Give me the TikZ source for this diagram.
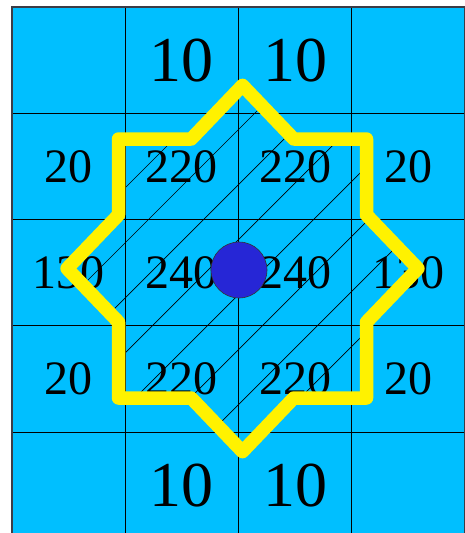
\documentclass[tikz,border=0pt]{standalone}
\usepackage{fontspec}
\setmainfont{Liberation Serif}
\usepackage{tikz}
\usetikzlibrary{calc}

\definecolor{cellblue}{RGB}{0,191,255}
\definecolor{dotblue}{RGB}{38,38,214}
\definecolor{edgegray}{RGB}{60,60,70}

% the eight-pointed star
\newcommand{\starline}{(242.5,85.4) -- (293.8,139) -- (366.5,139) -- (366.5,214.9)
  -- (417.9,268.5) -- (366.5,322.1) -- (366.5,398) -- (293.8,398)
  -- (242.5,451.6) -- (191.2,398) -- (118.5,398) -- (118.5,322.1)
  -- (67.1,268.5) -- (118.5,214.9) -- (118.5,139) -- (191.2,139) -- cycle}

\begin{document}
\begin{tikzpicture}[
  x=1pt,y=-1pt,
  line cap=round,
  grid/.style={draw=black,line width=0.9pt},
  hatch/.style={draw=black,line width=0.7pt},
  star/.style={draw=yellow,line width=13.5pt,line join=round},
  big/.style={inner sep=0pt,font=\fontsize{64}{64}\selectfont},
  val/.style={inner sep=0pt,font=\fontsize{48}{48}\selectfont}
]

\useasboundingbox (0,0) rectangle (465,533);
\clip (0,0) rectangle (465,533);

% cells
\fill[white] (0,0) rectangle (465,533);
\fill[cellblue] (12,7) rectangle (464.5,545);
\draw[grid] (125.25,7) -- (125.25,545);
\draw[grid] (238.5,7) -- (238.5,545);
\draw[grid] (351.75,7) -- (351.75,545);
\draw[grid] (12,113.25) -- (464.5,113.25);
\draw[grid] (12,219.5) -- (464.5,219.5);
\draw[grid] (12,325.75) -- (464.5,325.75);
\draw[grid] (12,432) -- (464.5,432);
\draw[draw=edgegray,line width=1.3pt] (12,545) -- (12,7) -- (464.5,7) -- (464.5,545);

% hatching inside the star
\begin{scope}
  \clip \starline;
  \draw[hatch] (258,0) -- (-302,560);
  \draw[hatch] (313,0) -- (-247,560);
  \draw[hatch] (368,0) -- (-192,560);
  \draw[hatch] (423,0) -- (-137,560);
  \draw[hatch] (478,0) -- (-82,560);
  \draw[hatch] (533,0) -- (-27,560);
  \draw[hatch] (588,0) -- (28,560);
  \draw[hatch] (643,0) -- (83,560);
  \draw[hatch] (698,0) -- (138,560);
  \draw[hatch] (753,0) -- (193,560);
\end{scope}

% values
\node[big] (r0c1) at (181.9,60.1) {10};
\node[big] (r0c2) at (295.1,60.1) {10};

\node[val] (r1c0) at (68.6,166.4) {20};
\node[val] (r1c1) at (181.9,166.4) {220};
\node[val] (r1c2) at (295.1,166.4) {220};
\node[val] (r1c3) at (408.4,166.4) {20};

\node[val] (r2c0) at (68.6,272.6) {130};
\node[val] (r2c1) at (181.9,272.6) {240};
\node[val] (r2c2) at (295.1,272.6) {240};
\node[val] (r2c3) at (408.4,272.6) {130};

\node[val] (r3c0) at (68.6,378.9) {20};
\node[val] (r3c1) at (181.9,378.9) {220};
\node[val] (r3c2) at (295.1,378.9) {220};
\node[val] (r3c3) at (408.4,378.9) {20};

\node[big] (r4c1) at (181.9,485.1) {10};
\node[big] (r4c2) at (295.1,485.1) {10};

% star outline
\draw[star] \starline;

% centre point
\draw[fill=dotblue,draw=black!80,line width=0.6pt] (239,270) circle [radius=28];

\end{tikzpicture}
\end{document}
